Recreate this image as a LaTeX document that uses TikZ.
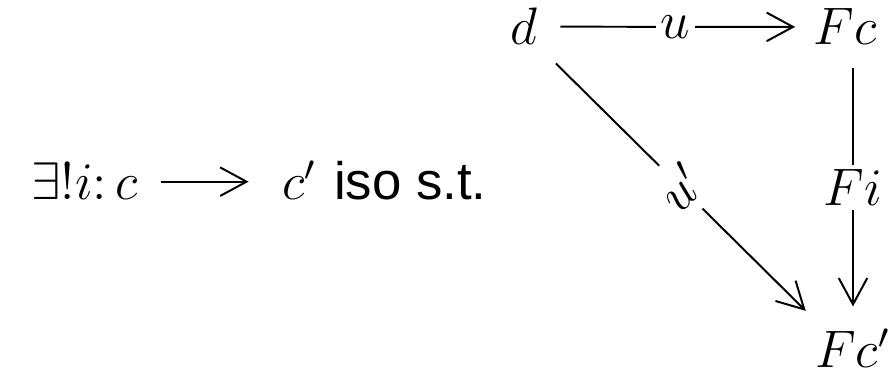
\documentclass[12pt,tikz,border=0pt]{standalone}
\usepackage{fontspec}
\setsansfont{Liberation Sans}
\usetikzlibrary{arrows.meta}
\begin{document}
\begin{tikzpicture}[x=0.008cm,y=-0.008cm,
  obj/.style={inner sep=4pt},
  arr/.style={-{Straight Barb[length=6pt,width=6.5pt]},line width=0.45pt},
  lab/.style={fill=white,inner sep=1pt}]
\useasboundingbox (0,0) rectangle (891,380);
\node[obj,anchor=base west] (ex) at (13,200) {$\exists! i\colon c$};
\node[obj,anchor=base west] (cp) at (264,200) {$c'$ \textsf{iso s.t.}};
\draw[arr,shorten <=1pt,shorten >=3.5pt] (ex.east |- ex.center) -- (cp.west |- ex.center);
\node[obj,anchor=base] (d) at (524,45) {$d$};
\node[obj,anchor=base] (Fc) at (845,45) {$Fc$};
\node[obj,anchor=base] (Fcp) at (853,368) {$Fc'$};
\draw[arr,shorten <=1pt] (d) -- node[lab] {$u$} (Fc);
\draw[arr,shorten <=1pt,shorten >=1pt] (Fc.south -| Fcp.north) -- node[lab] {$Fi$} (Fcp.north);
\draw[arr] (d.south east) -- node[lab,rotate=45,inner sep=2.5pt] {$u'$} ([xshift=2pt]Fcp.north west);
\end{tikzpicture}
\end{document}
